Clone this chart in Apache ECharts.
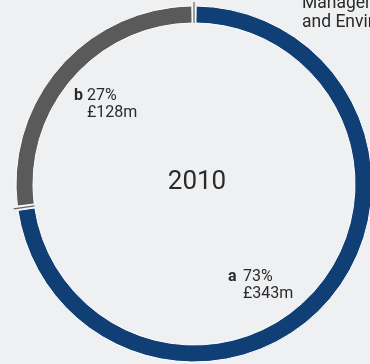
<!DOCTYPE html>
<html>
<head>
<meta charset="utf-8">
<script src="https://cdn.jsdelivr.net/npm/echarts@6/dist/echarts.min.js"></script>
<style>
  html, body { margin: 0; padding: 0; background: #eff0f2; }
  #chart { width: 370px; height: 364px; }
</style>
</head>
<body>
<div id="chart"></div>
<script>
// Spending split for 2010, £m
const year = '2010';
const keys = ['a', 'b'];
const amounts = [343, 128];
const colors = ['#0f3f74', '#5a5a5a'];

const total = amounts.reduce((s, v) => s + v, 0);
const shares = amounts.map(v => Math.round(v / total * 100));

// ring geometry
const cx = 194, cy = 184, rIn = 161, rOut = 178;

// cumulative boundaries between slices (0 = top)
const bounds = [];
let acc = 0;
amounts.forEach(v => { bounds.push(acc); acc += v; });

const fontFamily = 'Roboto, "Liberation Sans", Arial, sans-serif';
const ink = '#2a2a2a';

function sliceLabel(i, x, y, gap) {
  return {
    type: 'group',
    x: x, y: y,
    children: [
      { type: 'text', x: 0, y: 0,
        style: { text: keys[i], fontFamily, fontSize: 16, fontWeight: 'bold', fill: ink, lineHeight: 17, verticalAlign: 'top' } },
      { type: 'text', x: gap, y: 0,
        style: { text: shares[i] + '%\n£' + amounts[i] + 'm', fontFamily, fontSize: 16, fill: ink, lineHeight: 17, verticalAlign: 'top' } }
    ]
  };
}

const chart = echarts.init(document.getElementById('chart'), null, { renderer: 'canvas' });
chart.setOption({
  backgroundColor: '#eff0f2',
  animation: false,
  series: [
    {
      type: 'pie',
      center: [cx, cy],
      radius: [rIn, rOut],
      startAngle: 90,
      clockwise: true,
      padAngle: 1.4,
      silent: true,
      label: { show: false },
      labelLine: { show: false },
      itemStyle: { borderColor: '#ffffff', borderWidth: 1 },
      data: amounts.map((v, i) => ({ name: keys[i], value: v, itemStyle: { color: colors[i] } }))
    },
    {
      // thin divider rules at each slice boundary
      type: 'custom',
      coordinateSystem: 'none',
      silent: true,
      data: bounds,
      renderItem: function (params, api) {
        const v = api.value(0);
        const ang = Math.PI / 2 - v / total * Math.PI * 2;
        const r0 = rIn, r1 = rOut + 4;
        return {
          type: 'line',
          shape: {
            x1: cx + r0 * Math.cos(ang), y1: cy - r0 * Math.sin(ang),
            x2: cx + r1 * Math.cos(ang), y2: cy - r1 * Math.sin(ang)
          },
          style: { stroke: '#666', lineWidth: 1.2 }
        };
      }
    }
  ],
  graphic: [
    { type: 'text', x: 197, y: 182,
      style: { text: year, fontFamily, fontSize: 26, fill: ink, align: 'center', verticalAlign: 'middle' } },
    sliceLabel(1, 74, 87, 13),
    sliceLabel(0, 228, 268, 15),
    { type: 'text', x: 302, y: -6,
      style: { text: 'Management\nand Environment', fontFamily, fontSize: 17.5, fill: ink, lineHeight: 19, verticalAlign: 'top' } }
  ]
});
</script>
</body>
</html>
